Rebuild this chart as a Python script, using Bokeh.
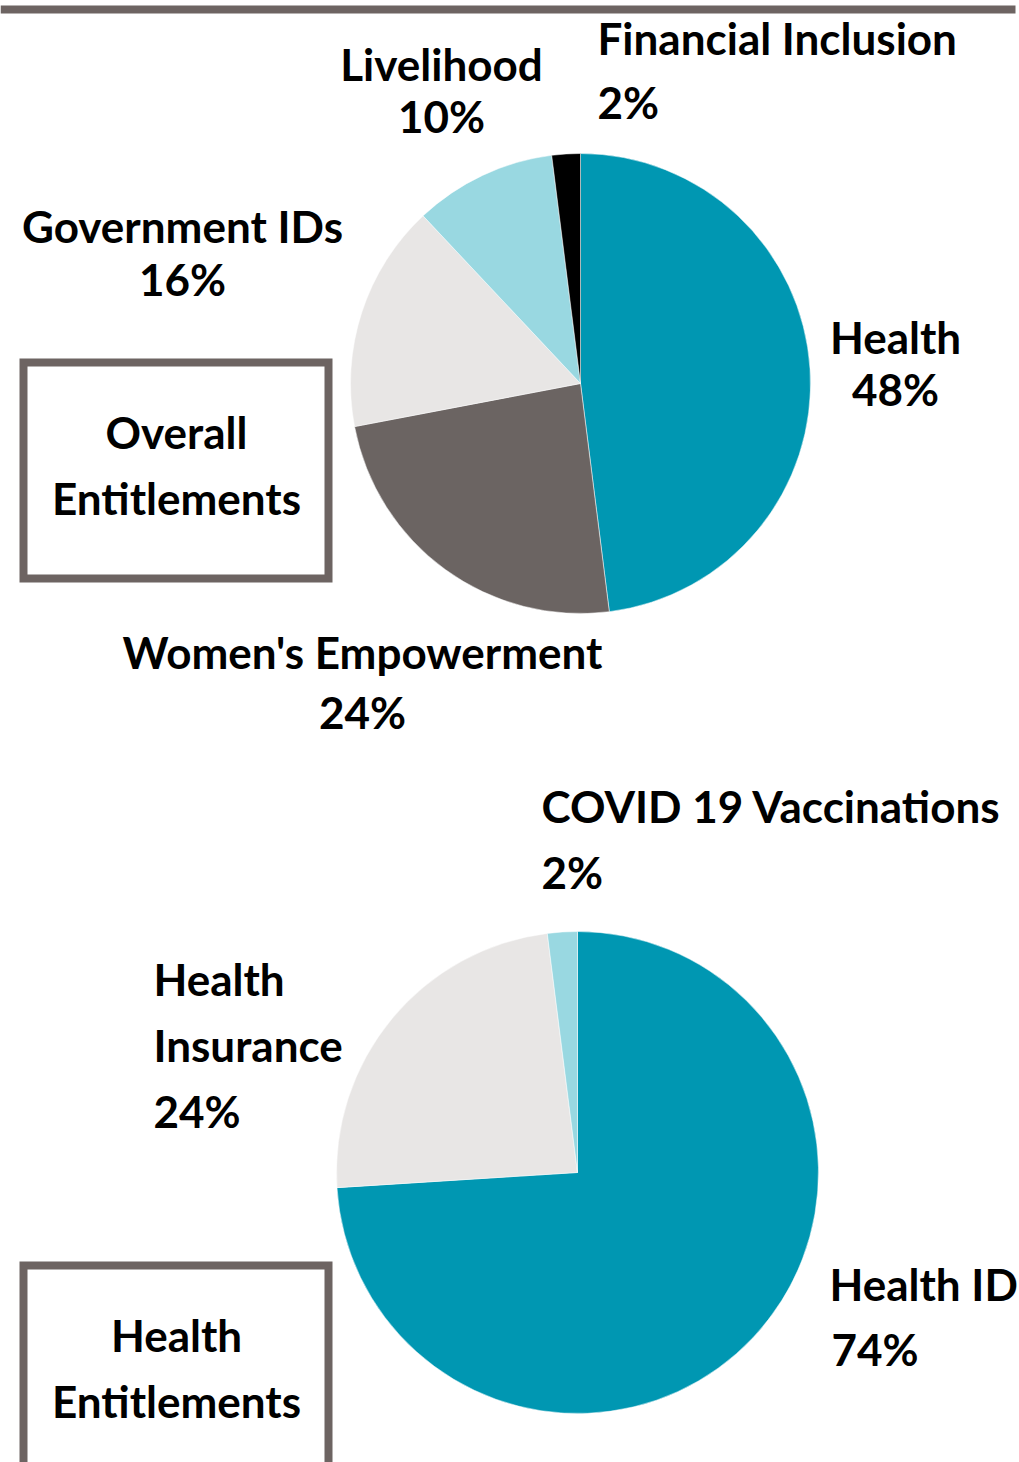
import math
from bokeh.plotting import figure
from bokeh.models import Range1d, ColumnDataSource
from bokeh.core.properties import value
from bokeh.embed import file_html
from bokeh.resources import INLINE

# ---- data ----
overall_cats = ["Health", "Women's Empowerment", "Government IDs", "Livelihood", "Financial Inclusion"]
overall_vals = [48, 24, 16, 10, 2]
overall_colors = ["#0097b2", "#6b6462", "#e8e6e5", "#99d8e1", "#000000"]

health_cats = ["Health ID", "Health Insurance", "COVID 19 Vaccinations"]
health_vals = [74, 24, 2]
health_colors = ["#0097b2", "#e8e6e5", "#99d8e1"]

W, H = 1019, 1462
FONT = value("Lato")
GREY = "#6d6462"

p = figure(width=W, height=H, output_backend="svg", toolbar_location=None,
           x_range=Range1d(0, W), y_range=Range1d(-H, 0),
           min_border=0)
p.axis.visible = False
p.grid.visible = False
p.outline_line_color = None
p.background_fill_color = "white"


def pie(cx, cy, r, vals, colors):
    total = float(sum(vals))
    starts, ends = [], []
    a = math.pi / 2
    for v in vals:
        b = a - 2 * math.pi * v / total
        starts.append(b)
        ends.append(a)
        a = b
    src = ColumnDataSource(dict(start=starts, end=ends, color=colors))
    p.wedge(x=cx, y=-cy, radius=r, start_angle="start", end_angle="end",
            fill_color="color", line_color="white", line_width=0.5, source=src)


pie(580, 383, 230, overall_vals, overall_colors)
pie(577, 1172, 241, health_vals, health_colors)

# top rule
p.quad(left=0, right=1015, top=-5, bottom=-13, fill_color=GREY, line_color=None)

# boxes
p.quad(left=23, right=328, top=-362, bottom=-578, fill_color="white",
       line_color=GREY, line_width=8, line_join="miter")
p.quad(left=23, right=328, top=-1265, bottom=-1500, fill_color="white",
       line_color=GREY, line_width=8, line_join="miter")


def txt(x, y, s, align="center"):
    p.text(x=[x], y=[-(y - 3)], text=[s], text_font=FONT, text_font_style="bold",
           text_font_size="44px", text_align=align, text_baseline="middle",
           text_color="black")


pct = lambda v: f"{v}%"

# overall labels
txt(895, 339, overall_cats[0]); txt(895, 391, pct(overall_vals[0]))
txt(362, 654, overall_cats[1]); txt(362, 714, pct(overall_vals[1]))
txt(182, 228, overall_cats[2]); txt(182, 281, pct(overall_vals[2]))
txt(441, 66, overall_cats[3]); txt(441, 118, pct(overall_vals[3]))
txt(597, 40, overall_cats[4], "left"); txt(597, 104, pct(overall_vals[4]), "left")

# health labels
txt(829, 1286, health_cats[0], "left"); txt(831, 1351, pct(health_vals[0]), "left")
txt(153, 981, "Health", "left"); txt(153, 1047, "Insurance", "left"); txt(153, 1113, pct(health_vals[1]), "left")
txt(541, 808, health_cats[2], "left"); txt(541, 874, pct(health_vals[2]), "left")

# box titles
txt(176, 434, "Overall"); txt(176, 500, "Entitlements")
txt(176, 1337, "Health"); txt(176, 1403, "Entitlements")

open("out.html", "w").write(file_html(p, INLINE))
